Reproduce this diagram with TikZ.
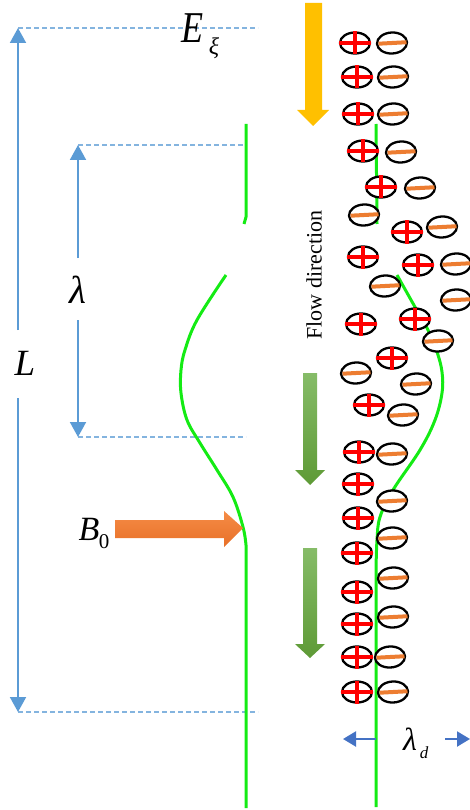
\documentclass[tikz,border=0pt]{standalone}
\usepackage{fontspec}
\usepackage{graphicx}
\setmainfont{Liberation Serif}
\usetikzlibrary{arrows.meta,shapes.geometric}

\definecolor{dimblue}{RGB}{91,155,213}
\definecolor{ddblue}{RGB}{68,114,196}
\definecolor{curvegreen}{RGB}{20,235,20}
\definecolor{fluxgold}{RGB}{255,192,0}
\definecolor{fieldorangeA}{RGB}{245,140,70}
\definecolor{fieldorangeB}{RGB}{232,112,40}
\definecolor{barorange}{RGB}{237,125,49}
\definecolor{flowgreenA}{RGB}{134,188,104}
\definecolor{flowgreenB}{RGB}{94,154,54}

\tikzset{
  particle/.style={ellipse, draw=black, line width=2.3pt, fill=white,
    minimum width=30pt, minimum height=21pt, inner sep=0pt, outer sep=0pt},
  plusbar/.style={red, line width=4.5pt, shorten <=-1pt, shorten >=-1pt},
  minusbar/.style={barorange, line width=4pt, shorten <=1.5pt, shorten >=0.5pt},
  dimline/.style={dimblue, line width=2pt, -{Triangle[width=16pt,length=15pt]}},
  debyeline/.style={ddblue, line width=2.2pt, -{Triangle[width=15pt,length=13pt]}},
  guide/.style={dimblue!75, line width=1.2pt, dash pattern=on 5pt off 3pt},
  curve/.style={curvegreen, line width=3pt},
  lbl/.style={inner sep=0pt, anchor=base},
}

% positive ion: ellipse with a red cross
\newcommand\poscharge[3]{%
  \node[particle] (#1) at (#2,#3) {};
  \draw[plusbar] (#1.north) -- (#1.south);
  \draw[plusbar] (#1.west) -- (#1.east);}
% negative ion: ellipse with an orange bar
\newcommand\negcharge[3]{%
  \node[particle, rotate=3] (#1) at (#2,#3) {};
  \draw[minusbar] (#1.west) -- (#1.east);}

\begin{document}
\begin{tikzpicture}[x=1pt, y=-1pt]
\useasboundingbox (0,0) rectangle (470,810);

% ---- dimension lines on the left ----
\coordinate (Ltop) at (18,28);
\coordinate (Lbot) at (18,712);
\coordinate (Lg1) at (18,330);
\coordinate (Lg2) at (18,398);
\coordinate (Ktop) at (78,145);
\coordinate (Kbot) at (78,437);
\coordinate (Kg1) at (78,258);
\coordinate (Kg2) at (78,320);
\coordinate (gA) at (258,28);
\coordinate (gB) at (246,145);
\coordinate (gC) at (246,437);
\coordinate (gD) at (258,712);

\draw[guide] (Ltop) -- (gA);
\draw[guide] (Ktop) -- (gB);
\draw[guide] (Kbot) -- (gC);
\draw[guide] (Lbot) -- (gD);

\draw[dimline] (Lg1) -- (Ltop);
\draw[dimline] (Lg2) -- (Lbot);
\draw[dimline] (Kg1) -- (Ktop);
\draw[dimline] (Kg2) -- (Kbot);

\node[lbl, font=\fontsize{37}{37}\selectfont\itshape] (Llab) at (25,375) {L};
\node[lbl, font=\fontsize{39}{39}\selectfont\itshape] (lamlab) at (78,303) {λ};

% ---- field label ----
\node[lbl, font=\fontsize{44}{44}\selectfont\itshape] (Elab) at (193,43) {\scalebox{0.82}[1]{E}};
\node[lbl, font=\fontsize{24}{24}\selectfont\itshape] (Esub) at (214,55) {ξ};

% ---- left field line ----
\draw[curve] (246,124) -- (246,217) -- (244,224);
\draw[curve] plot[smooth, tension=0.6] coordinates {(226,275) (197,320) (185,350) (181,370)
  (181,393) (187,420) (200,443) (217,470) (233,497) (243,527) (246,545)} -- (246,808);

% ---- magnetic field arrow ----
\shade[top color=fieldorangeA, bottom color=fieldorangeB]
  (115,520) -- (224,520) -- (224,511) -- (243,528) -- (224,547) -- (224,538) -- (115,538) -- cycle;
\node[lbl, font=\fontsize{34}{34}\selectfont\itshape] (Blab) at (89,540) {B};
\node[lbl, font=\fontsize{21}{21}\selectfont] (Bsub) at (104,548) {0};

% ---- flow arrows ----
\fill[fluxgold] (305,3) -- (322,3) -- (322,110) -- (329,110) -- (313,126) -- (297,110) -- (305,110) -- cycle;
\shade[top color=flowgreenA, bottom color=flowgreenB]
  (303,373) -- (317,373) -- (317,470) -- (325,470) -- (310,485) -- (295,470) -- (303,470) -- cycle;
\shade[top color=flowgreenA, bottom color=flowgreenB]
  (303,548) -- (317,548) -- (317,644) -- (325,644) -- (310,658) -- (295,644) -- (303,644) -- cycle;
\node[font=\fontsize{22}{22}\selectfont, rotate=90] (flow) at (314,275) {Flow direction};

% ---- right field line ----
\draw[curve] (376,124) -- (377,224);
\draw[curve] plot[smooth, tension=0.6] coordinates {(397,275) (415,307) (427,328) (437,352)
  (442,372) (442,393) (435,420) (420,450) (393,490) (380,517) (377,540) (376,570)} -- (376,807);

% ---- ions ----
\poscharge{p1}{355}{43}
\poscharge{p2}{357}{77}
\poscharge{p3}{358}{114}
\poscharge{p4}{363}{151}
\poscharge{p5}{381}{187}
\poscharge{p6}{407}{232}
\poscharge{p7}{363}{257}
\poscharge{p8}{418}{265}
\poscharge{p9}{361}{324}
\poscharge{p10}{415}{319}
\poscharge{p11}{392}{358}
\poscharge{p12}{369}{405}
\poscharge{p13}{359}{452}
\poscharge{p14}{358}{484}
\poscharge{p15}{358}{518}
\poscharge{p16}{357}{553}
\poscharge{p17}{357}{592}
\poscharge{p18}{357}{624}
\poscharge{p19}{357}{657}
\poscharge{p20}{357}{692}

\negcharge{m1}{392}{43}
\negcharge{m2}{393}{77}
\negcharge{m3}{393}{114}
\negcharge{m4}{401}{152}
\negcharge{m5}{420}{188}
\negcharge{m6}{364}{215}
\negcharge{m7}{442}{227}
\negcharge{m8}{456}{264}
\negcharge{m9}{385}{286}
\negcharge{m10}{456}{300}
\negcharge{m11}{438}{341}
\negcharge{m12}{356}{373}
\negcharge{m13}{416}{384}
\negcharge{m14}{403}{415}
\negcharge{m15}{392}{454}
\negcharge{m16}{392}{501}
\negcharge{m17}{392}{538}
\negcharge{m18}{393}{578}
\negcharge{m19}{393}{617}
\negcharge{m20}{390}{657}
\negcharge{m21}{393}{692}

% ---- Debye length marker ----
\coordinate (dl0) at (376,739);
\coordinate (dl1) at (343,739);
\coordinate (dr0) at (445,739);
\coordinate (dr1) at (470,739);
\draw[debyeline] (dl0) -- (dl1);
\draw[debyeline] (dr0) -- (dr1);
\node[lbl, font=\fontsize{32}{32}\selectfont\itshape] (ldlab) at (410,750) {λ};
\node[lbl, font=\fontsize{17}{17}\selectfont\itshape] (ldsub) at (424,758) {d};

\end{tikzpicture}
\end{document}
